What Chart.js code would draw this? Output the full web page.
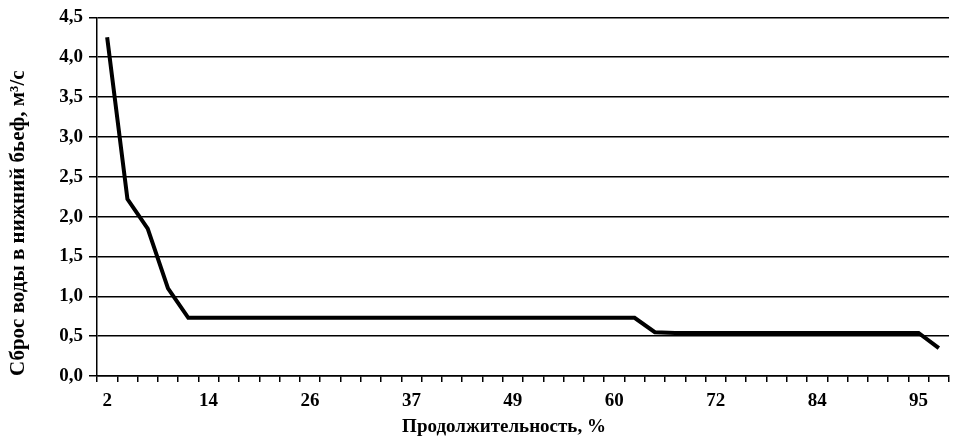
<!DOCTYPE html>
<html>
<head>
<meta charset="utf-8">
<script src="https://cdn.jsdelivr.net/npm/chart.js@4/dist/chart.umd.min.js"></script>
<style>
  html, body { margin: 0; padding: 0; background: #fff; }
  #wrap { width: 955px; height: 438px; }
</style>
</head>
<body>
<div id="wrap"><canvas id="flowChart" width="955" height="438"></canvas></div>
<script>
// Duration curve of discharge into the tailwater
// 42 points, duration = (i+1)/43*100 rounded

const durationPct = [2, 5, 7, 9, 12, 14, 16, 19, 21, 23, 26, 28, 30, 33, 35, 37, 40, 42, 44, 47, 49,
  51, 53, 56, 58, 60, 63, 65, 67, 70, 72, 74, 77, 79, 81, 84, 86, 88, 91, 93, 95, 98];

const discharge = [4.25, 2.22, 1.85, 1.10, 0.73, 0.73, 0.73, 0.73, 0.73, 0.73, 0.73, 0.73, 0.73, 0.73,
  0.73, 0.73, 0.73, 0.73, 0.73, 0.73, 0.73, 0.73, 0.73, 0.73, 0.73, 0.73, 0.73,
  0.55, 0.54, 0.54, 0.54, 0.54, 0.54, 0.54, 0.54, 0.54, 0.54, 0.54, 0.54, 0.54, 0.54, 0.35];

const labelEvery = 5; // only every 5th category gets a label
const yTitle = 'Сброс воды в нижний бьеф, м\u00B3/с';
// trailing nbsp pushes the centred title a bit to the left, as in the original
const xTitle = 'Продолжительность, %' + '\u00A0'.repeat(8);

const family = '"Liberation Serif", "Times New Roman", serif';
const tickFont = { family: family, size: 19, weight: 'bold' };

const chart = new Chart(document.getElementById('flowChart').getContext('2d'), {
  type: 'line',
  data: {
    labels: durationPct.map(String),
    datasets: [{
      data: discharge,
      borderColor: '#000',
      borderWidth: 4,
      pointRadius: 0,
      tension: 0,
      fill: false
    }]
  },
  options: {
    responsive: false,
    animation: false,
    devicePixelRatio: 1,
    layout: { padding: { top: 17, right: 6, left: 6, bottom: 0 } },
    plugins: {
      legend: { display: false },
      tooltip: { enabled: false }
    },
    scales: {
      x: {
        type: 'category',
        offset: true,
        border: { color: '#000', width: 1.5 },
        grid: {
          offset: true,
          drawOnChartArea: false,
          drawTicks: true,
          tickLength: 6,
          color: '#000',
          lineWidth: 1.5
        },
        ticks: {
          autoSkip: false,
          maxRotation: 0,
          color: '#000',
          font: tickFont,
          padding: 8,
          callback: function (val, idx) {
            return idx % labelEvery === 0 ? this.getLabelForValue(val) : '';
          }
        },
        title: {
          display: true, text: xTitle, color: '#000',
          font: { family: family, size: 19, weight: 'bold' },
          padding: { top: 0, bottom: 0 }
        },
        afterFit: function (scale) { scale.height = 62; }
      },
      y: {
        min: 0,
        max: 4.5,
        border: { color: '#000', width: 1.5 },
        grid: { color: '#000', lineWidth: 1.5, tickLength: 8 },
        ticks: {
          stepSize: 0.5,
          color: '#000',
          font: tickFont,
          padding: 6,
          callback: v => v.toFixed(1).replace('.', ',')
        },
        title: {
          display: true, text: yTitle, color: '#000', align: 'start',
          font: { family: family, size: 21, weight: 'bold' },
          padding: { top: 0, bottom: 0 }
        },
        afterFit: function (scale) { scale.width = 91; }
      }
    }
  }
});
</script>
</body>
</html>
